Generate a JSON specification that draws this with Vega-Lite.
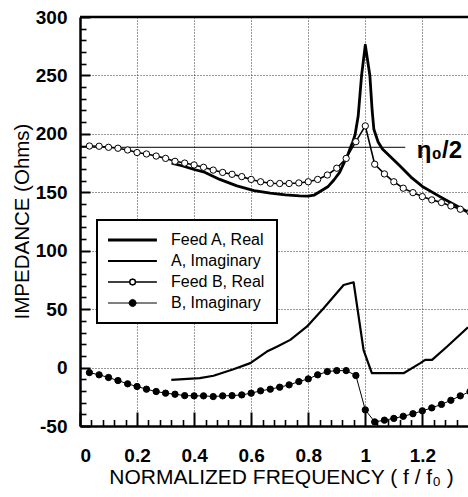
{
  "$schema": "https://vega.github.io/schema/vega-lite/v6.json",
  "autosize": {"type": "none"},
  "width": 388,
  "height": 409,
  "padding": {"left": 80, "top": 17, "right": 0, "bottom": 71},
  "background": "white",
  "config": {
    "view": {"stroke": null},
    "font": "Liberation Sans",
    "axis": {"labelFont": "Liberation Sans", "titleFont": "Liberation Sans", "labelColor": "black", "titleColor": "black", "domainColor": "black", "tickColor": "black"}
  },
  "datasets": {
    "curves": [
      {"s": "Feed A, Real", "f": 0.321, "v": 175},
      {"s": "Feed A, Real", "f": 0.36, "v": 172.5},
      {"s": "Feed A, Real", "f": 0.4, "v": 169.5},
      {"s": "Feed A, Real", "f": 0.433, "v": 167.5},
      {"s": "Feed A, Real", "f": 0.49, "v": 161},
      {"s": "Feed A, Real", "f": 0.55, "v": 155.5},
      {"s": "Feed A, Real", "f": 0.61, "v": 151.5},
      {"s": "Feed A, Real", "f": 0.667, "v": 149.2},
      {"s": "Feed A, Real", "f": 0.72, "v": 147.7},
      {"s": "Feed A, Real", "f": 0.77, "v": 147},
      {"s": "Feed A, Real", "f": 0.8, "v": 146.8},
      {"s": "Feed A, Real", "f": 0.82, "v": 147.5},
      {"s": "Feed A, Real", "f": 0.84, "v": 150.5},
      {"s": "Feed A, Real", "f": 0.87, "v": 155},
      {"s": "Feed A, Real", "f": 0.89, "v": 160.5},
      {"s": "Feed A, Real", "f": 0.91, "v": 167},
      {"s": "Feed A, Real", "f": 0.925, "v": 175},
      {"s": "Feed A, Real", "f": 0.94, "v": 183},
      {"s": "Feed A, Real", "f": 0.949, "v": 189},
      {"s": "Feed A, Real", "f": 0.956, "v": 193},
      {"s": "Feed A, Real", "f": 0.964, "v": 199},
      {"s": "Feed A, Real", "f": 0.975, "v": 215},
      {"s": "Feed A, Real", "f": 0.987, "v": 250},
      {"s": "Feed A, Real", "f": 1.0, "v": 276},
      {"s": "Feed A, Real", "f": 1.016, "v": 250},
      {"s": "Feed A, Real", "f": 1.024, "v": 220},
      {"s": "Feed A, Real", "f": 1.03, "v": 204},
      {"s": "Feed A, Real", "f": 1.045, "v": 193},
      {"s": "Feed A, Real", "f": 1.06, "v": 187},
      {"s": "Feed A, Real", "f": 1.09, "v": 180},
      {"s": "Feed A, Real", "f": 1.12, "v": 173},
      {"s": "Feed A, Real", "f": 1.16, "v": 163},
      {"s": "Feed A, Real", "f": 1.2, "v": 155},
      {"s": "Feed A, Real", "f": 1.26, "v": 146.5},
      {"s": "Feed A, Real", "f": 1.3, "v": 141},
      {"s": "Feed A, Real", "f": 1.36, "v": 133},
      {"s": "A, Imaginary", "f": 0.32, "v": -10.5},
      {"s": "A, Imaginary", "f": 0.42, "v": -9},
      {"s": "A, Imaginary", "f": 0.468, "v": -7},
      {"s": "A, Imaginary", "f": 0.538, "v": -1.4},
      {"s": "A, Imaginary", "f": 0.597, "v": 3.8},
      {"s": "A, Imaginary", "f": 0.655, "v": 13.7},
      {"s": "A, Imaginary", "f": 0.69, "v": 17.9},
      {"s": "A, Imaginary", "f": 0.737, "v": 23.7},
      {"s": "A, Imaginary", "f": 0.795, "v": 35},
      {"s": "A, Imaginary", "f": 0.854, "v": 50.8},
      {"s": "A, Imaginary", "f": 0.924, "v": 70.7},
      {"s": "A, Imaginary", "f": 0.959, "v": 73},
      {"s": "A, Imaginary", "f": 0.994, "v": 15},
      {"s": "A, Imaginary", "f": 1.023, "v": -4.8},
      {"s": "A, Imaginary", "f": 1.134, "v": -4.8},
      {"s": "A, Imaginary", "f": 1.193, "v": 3.8},
      {"s": "A, Imaginary", "f": 1.21, "v": 6.6},
      {"s": "A, Imaginary", "f": 1.234, "v": 6.6},
      {"s": "A, Imaginary", "f": 1.287, "v": 18},
      {"s": "A, Imaginary", "f": 1.36, "v": 34.5},
      {"s": "Feed B, Real", "f": 0.033, "v": 189.6},
      {"s": "Feed B, Real", "f": 0.067, "v": 189.4},
      {"s": "Feed B, Real", "f": 0.1, "v": 188.5},
      {"s": "Feed B, Real", "f": 0.133, "v": 187.7},
      {"s": "Feed B, Real", "f": 0.167, "v": 186.2},
      {"s": "Feed B, Real", "f": 0.2, "v": 184},
      {"s": "Feed B, Real", "f": 0.233, "v": 182.8},
      {"s": "Feed B, Real", "f": 0.267, "v": 181},
      {"s": "Feed B, Real", "f": 0.3, "v": 179},
      {"s": "Feed B, Real", "f": 0.333, "v": 176.5},
      {"s": "Feed B, Real", "f": 0.367, "v": 175},
      {"s": "Feed B, Real", "f": 0.4, "v": 173.4},
      {"s": "Feed B, Real", "f": 0.433, "v": 171.4},
      {"s": "Feed B, Real", "f": 0.467, "v": 169},
      {"s": "Feed B, Real", "f": 0.5, "v": 167},
      {"s": "Feed B, Real", "f": 0.533, "v": 165.4},
      {"s": "Feed B, Real", "f": 0.567, "v": 163.4},
      {"s": "Feed B, Real", "f": 0.6, "v": 161},
      {"s": "Feed B, Real", "f": 0.633, "v": 159},
      {"s": "Feed B, Real", "f": 0.667, "v": 157.7},
      {"s": "Feed B, Real", "f": 0.7, "v": 157.5},
      {"s": "Feed B, Real", "f": 0.733, "v": 157.5},
      {"s": "Feed B, Real", "f": 0.767, "v": 158},
      {"s": "Feed B, Real", "f": 0.8, "v": 159},
      {"s": "Feed B, Real", "f": 0.833, "v": 161},
      {"s": "Feed B, Real", "f": 0.867, "v": 164.8},
      {"s": "Feed B, Real", "f": 0.9, "v": 170.6},
      {"s": "Feed B, Real", "f": 0.933, "v": 179},
      {"s": "Feed B, Real", "f": 0.967, "v": 193.3},
      {"s": "Feed B, Real", "f": 1.0, "v": 206.8},
      {"s": "Feed B, Real", "f": 1.033, "v": 174},
      {"s": "Feed B, Real", "f": 1.067, "v": 165.7},
      {"s": "Feed B, Real", "f": 1.1, "v": 159},
      {"s": "Feed B, Real", "f": 1.133, "v": 153.5},
      {"s": "Feed B, Real", "f": 1.167, "v": 149.7},
      {"s": "Feed B, Real", "f": 1.2, "v": 146.3},
      {"s": "Feed B, Real", "f": 1.233, "v": 143.5},
      {"s": "Feed B, Real", "f": 1.267, "v": 141.2},
      {"s": "Feed B, Real", "f": 1.3, "v": 138.3},
      {"s": "Feed B, Real", "f": 1.333, "v": 135.5},
      {"s": "Feed B, Real", "f": 1.367, "v": 133},
      {"s": "B, Imaginary", "f": 0.033, "v": -4.3},
      {"s": "B, Imaginary", "f": 0.067, "v": -6.2},
      {"s": "B, Imaginary", "f": 0.1, "v": -8.5},
      {"s": "B, Imaginary", "f": 0.133, "v": -11.1},
      {"s": "B, Imaginary", "f": 0.167, "v": -13.9},
      {"s": "B, Imaginary", "f": 0.2, "v": -16.2},
      {"s": "B, Imaginary", "f": 0.233, "v": -18.5},
      {"s": "B, Imaginary", "f": 0.267, "v": -20.5},
      {"s": "B, Imaginary", "f": 0.3, "v": -21.9},
      {"s": "B, Imaginary", "f": 0.333, "v": -22.8},
      {"s": "B, Imaginary", "f": 0.367, "v": -24},
      {"s": "B, Imaginary", "f": 0.4, "v": -24.2},
      {"s": "B, Imaginary", "f": 0.433, "v": -24.2},
      {"s": "B, Imaginary", "f": 0.467, "v": -24.8},
      {"s": "B, Imaginary", "f": 0.5, "v": -24.2},
      {"s": "B, Imaginary", "f": 0.533, "v": -24},
      {"s": "B, Imaginary", "f": 0.567, "v": -23.4},
      {"s": "B, Imaginary", "f": 0.6, "v": -21.9},
      {"s": "B, Imaginary", "f": 0.633, "v": -19.9},
      {"s": "B, Imaginary", "f": 0.667, "v": -18.5},
      {"s": "B, Imaginary", "f": 0.7, "v": -16.8},
      {"s": "B, Imaginary", "f": 0.733, "v": -14.8},
      {"s": "B, Imaginary", "f": 0.767, "v": -12},
      {"s": "B, Imaginary", "f": 0.8, "v": -9.7},
      {"s": "B, Imaginary", "f": 0.833, "v": -6.2},
      {"s": "B, Imaginary", "f": 0.867, "v": -3.4},
      {"s": "B, Imaginary", "f": 0.9, "v": -2.6},
      {"s": "B, Imaginary", "f": 0.933, "v": -2.6},
      {"s": "B, Imaginary", "f": 0.967, "v": -6.8},
      {"s": "B, Imaginary", "f": 1.0, "v": -36.2},
      {"s": "B, Imaginary", "f": 1.033, "v": -46.5},
      {"s": "B, Imaginary", "f": 1.067, "v": -45},
      {"s": "B, Imaginary", "f": 1.1, "v": -43.5},
      {"s": "B, Imaginary", "f": 1.133, "v": -41.7},
      {"s": "B, Imaginary", "f": 1.167, "v": -39.5},
      {"s": "B, Imaginary", "f": 1.2, "v": -37},
      {"s": "B, Imaginary", "f": 1.233, "v": -34.5},
      {"s": "B, Imaginary", "f": 1.267, "v": -31.5},
      {"s": "B, Imaginary", "f": 1.3, "v": -28},
      {"s": "B, Imaginary", "f": 1.333, "v": -24.2},
      {"s": "B, Imaginary", "f": 1.367, "v": -20.5}
    ]
  },
  "layer": [
    {
      "data": {"values": [{"f0": 0, "f1": 1.14, "v": 188.5}]},
      "mark": {"type": "rule", "color": "black", "strokeWidth": 1},
      "encoding": {
        "x": {"field": "f0", "type": "quantitative", "scale": {"domain": [0, 1.36], "nice": false, "zero": false},
          "axis": {"orient": "bottom", "values": [0.04,0.08,0.12,0.16,0.24,0.28,0.32,0.36,0.44,0.48,0.52,0.56,0.64,0.68,0.72,0.76,0.84,0.88,0.92,0.96,1.04,1.08,1.12,1.16,1.24,1.28,1.32], "tickSize": -6.5, "tickWidth": 1.6, "labels": false, "domain": false, "grid": false, "title": null}},
        "x2": {"field": "f1"},
        "y": {"field": "v", "type": "quantitative", "scale": {"domain": [-50, 300], "nice": false, "zero": false},
          "axis": {"orient": "left", "values": [-40,-30,-20,-10,10,20,30,40,60,70,80,90,110,120,130,140,160,170,180,190,210,220,230,240,260,270,280,290], "tickSize": -6, "tickWidth": 1.6, "labels": false, "domain": false, "grid": false, "title": null}}
      }
    },
    {
      "data": {"name": "curves"},
      "mark": {"type": "line", "clip": true, "strokeJoin": "round"},
      "encoding": {
        "x": {"field": "f", "type": "quantitative",
          "axis": {"orient": "bottom", "values": [0, 0.2, 0.4, 0.6, 0.8, 1, 1.2], "labelExpr": "datum.value + ''", "tickSize": -14, "tickWidth": 2, "domainWidth": 2.5, "labelFontSize": 19, "labelFontWeight": "bold", "labelPadding": 34, "grid": true, "gridDash": [1, 2], "gridColor": "#333", "gridWidth": 1,
            "title": "NORMALIZED FREQUENCY ( f / f₀ )", "titleFontSize": 21, "titleFontWeight": "normal", "titleX": 201, "titleY": 57, "titleBaseline": "alphabetic"}},
        "y": {"field": "v", "type": "quantitative",
          "axis": {"orient": "left", "values": [-50, 0, 50, 100, 150, 200, 250, 300], "labelExpr": "datum.value + ''", "tickSize": -10, "tickWidth": 2, "domainWidth": 2.5, "labelFontSize": 19, "labelFontWeight": "bold", "labelPadding": 23, "grid": true, "gridDash": [1, 2], "gridColor": "#333", "gridWidth": 1,
            "title": "IMPEDANCE (Ohms)", "titleFontSize": 20.5, "titleFontWeight": "normal", "titleX": -52, "titleY": 204, "titleBaseline": "alphabetic"}},
        "color": {"field": "s", "type": "nominal",
          "scale": {"domain": ["Feed A, Real", "A, Imaginary", "Feed B, Real", "B, Imaginary"], "range": ["black", "black", "black", "black"]},
          "legend": {"orient": "none", "legendX": 17, "legendY": 203, "title": null, "padding": 12, "rowPadding": 5, "labelFontSize": 16, "labelFont": "Liberation Sans", "labelColor": "black", "labelOffset": 46, "symbolSize": 36, "strokeColor": "black", "fillColor": "white",
            "encode": {
              "legend": {"update": {"strokeWidth": {"value": 2}}},
              "symbols": {"update": {
                "shape": {"signal": "datum.value === 'Feed B, Real' ? 'M-3,0H4.2M6.2,0H13.3M6.2,0L5.91,0.71L5.2,1L4.49,0.71L4.2,0L4.49,-0.71L5.2,-1L5.91,-0.71Z' : (datum.value === 'B, Imaginary' ? 'M-3,0H13.3M6.4,0L6.05,0.85L5.2,1.2L4.35,0.85L4,0L4.35,-0.85L5.2,-1.2L6.05,-0.85Z' : 'M-3,0H13.3')"},
                "fill": {"signal": "datum.value === 'B, Imaginary' ? 'black' : (datum.value === 'Feed B, Real' ? 'white' : 'transparent')"},
                "stroke": {"value": "black"},
                "strokeWidth": {"signal": "datum.value === 'Feed A, Real' ? 2.8 : 1"}
              }}
            }}},
        "strokeWidth": {"field": "s", "type": "nominal",
          "scale": {"domain": ["Feed A, Real", "A, Imaginary", "Feed B, Real", "B, Imaginary"], "range": [2.8, 1, 1, 1.2]},
          "legend": null}
      }
    },
    {
      "data": {"name": "curves"},
      "transform": [{"filter": "datum.s === 'Feed B, Real'"}],
      "mark": {"type": "point", "shape": "circle", "size": 40, "stroke": "black", "fill": "white", "filled": true, "strokeWidth": 1, "opacity": 1, "clip": true},
      "encoding": {
        "x": {"field": "f", "type": "quantitative", "axis": null},
        "y": {"field": "v", "type": "quantitative", "axis": null}
      }
    },
    {
      "data": {"name": "curves"},
      "transform": [{"filter": "datum.s === 'B, Imaginary'"}],
      "mark": {"type": "point", "shape": "circle", "size": 40, "stroke": "black", "fill": "black", "filled": true, "strokeWidth": 1, "opacity": 1, "clip": true},
      "encoding": {
        "x": {"field": "f", "type": "quantitative", "axis": null},
        "y": {"field": "v", "type": "quantitative", "axis": null}
      }
    },
    {
      "data": {"values": [{"f0": 0, "f1": 1.36, "v": 300}]},
      "mark": {"type": "rule", "color": "black", "strokeWidth": 2.5},
      "encoding": {
        "x": {"field": "f0", "type": "quantitative", "axis": null},
        "x2": {"field": "f1"},
        "y": {"field": "v", "type": "quantitative", "axis": null}
      }
    },
    {
      "data": {"values": [{"f": 1.18, "v": 185, "t": "η₀/2"}]},
      "mark": {"type": "text", "align": "left", "baseline": "middle", "fontSize": 24, "fontWeight": "bold", "font": "Liberation Sans", "color": "black"},
      "encoding": {
        "x": {"field": "f", "type": "quantitative", "axis": null},
        "y": {"field": "v", "type": "quantitative", "axis": null},
        "text": {"field": "t"}
      }
    }
  ],
  "resolve": {"axis": {"x": "independent", "y": "independent"}}
}
